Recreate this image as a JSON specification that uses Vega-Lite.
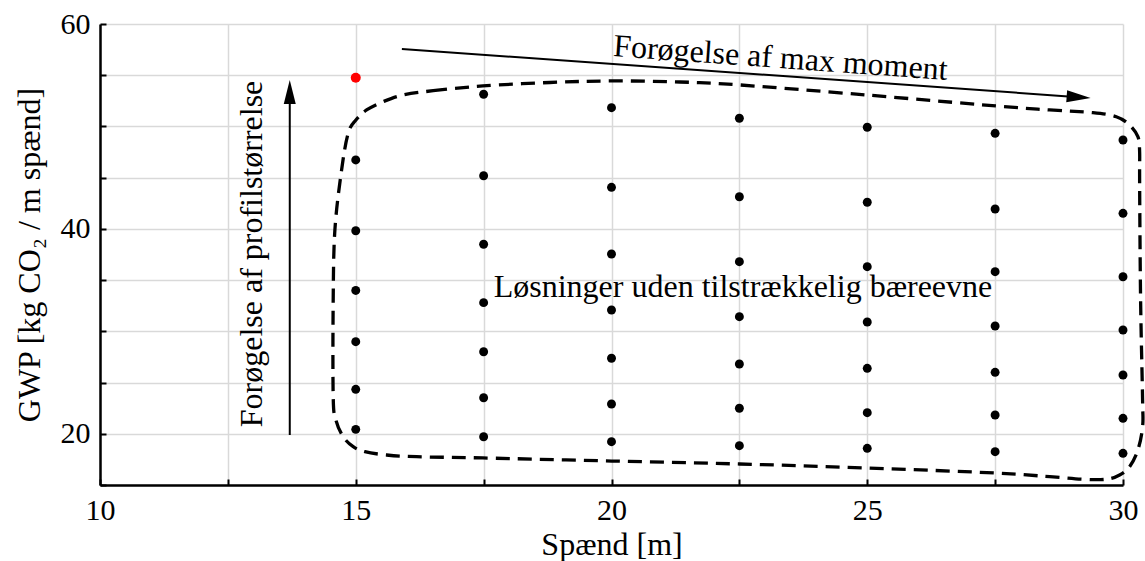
{
  "$schema": "https://vega.github.io/schema/vega-lite/v6.json",
  "width": 1023,
  "height": 461,
  "autosize": {"type": "none"},
  "padding": {"left": 100, "top": 24, "right": 22, "bottom": 76},
  "background": "white",
  "config": {
    "view": {"stroke": null},
    "font": "'Liberation Serif', 'Times New Roman', serif",
    "text": {"font": "'Liberation Serif', 'Times New Roman', serif"},
    "axis": {
      "labelFont": "'Liberation Serif', 'Times New Roman', serif",
      "titleFont": "'Liberation Serif', 'Times New Roman', serif",
      "titleFontWeight": "normal",
      "labelColor": "black",
      "titleColor": "black",
      "gridColor": "#d9d9d9",
      "gridWidth": 1.5,
      "gridOpacity": 1,
      "domainColor": "black",
      "domainWidth": 2.5,
      "tickColor": "black",
      "tickWidth": 2,
      "tickSize": -6,
      "labelFontSize": 30,
      "titleFontSize": 32,
      "labelFlush": false,
      "labelOverlap": false
    }
  },
  "datasets": {
    "dots": [
      {"x": 15, "y": 46.73}, {"x": 15, "y": 39.82}, {"x": 15, "y": 33.99}, {"x": 15, "y": 28.99}, {"x": 15, "y": 24.34}, {"x": 15, "y": 20.43},
      {"x": 17.5, "y": 53.14}, {"x": 17.5, "y": 45.19}, {"x": 17.5, "y": 38.5}, {"x": 17.5, "y": 32.8}, {"x": 17.5, "y": 28.01}, {"x": 17.5, "y": 23.52}, {"x": 17.5, "y": 19.71},
      {"x": 20, "y": 51.83}, {"x": 20, "y": 44.06}, {"x": 20, "y": 37.55}, {"x": 20, "y": 32.08}, {"x": 20, "y": 27.37}, {"x": 20, "y": 22.91}, {"x": 20, "y": 19.23},
      {"x": 22.5, "y": 50.8}, {"x": 22.5, "y": 43.14}, {"x": 22.5, "y": 36.8}, {"x": 22.5, "y": 31.43}, {"x": 22.5, "y": 26.81}, {"x": 22.5, "y": 22.49}, {"x": 22.5, "y": 18.84},
      {"x": 25, "y": 49.92}, {"x": 25, "y": 42.6}, {"x": 25, "y": 36.31}, {"x": 25, "y": 30.91}, {"x": 25, "y": 26.39}, {"x": 25, "y": 22.06}, {"x": 25, "y": 18.58},
      {"x": 27.5, "y": 49.33}, {"x": 27.5, "y": 41.94}, {"x": 27.5, "y": 35.82}, {"x": 27.5, "y": 30.52}, {"x": 27.5, "y": 26.0}, {"x": 27.5, "y": 21.83}, {"x": 27.5, "y": 18.25},
      {"x": 30, "y": 48.68}, {"x": 30, "y": 41.52}, {"x": 30, "y": 35.33}, {"x": 30, "y": 30.13}, {"x": 30, "y": 25.74}, {"x": 30, "y": 21.51}, {"x": 30, "y": 18.09}
    ],
    "red": [{"x": 15, "y": 54.76}],
    "boundary": [
      {"i": 1, "x": 15.927, "y": 53.07},
      {"i": 2, "x": 16.514, "y": 53.49},
      {"i": 3, "x": 17.485, "y": 53.95},
      {"i": 4, "x": 18.794, "y": 54.29},
      {"i": 5, "x": 20.006, "y": 54.44},
      {"i": 6, "x": 21.335, "y": 54.34},
      {"i": 7, "x": 22.508, "y": 54.05},
      {"i": 8, "x": 24.989, "y": 53.07},
      {"i": 9, "x": 27.511, "y": 52.0},
      {"i": 10, "x": 28.566, "y": 51.61},
      {"i": 11, "x": 29.412, "y": 51.34},
      {"i": 12, "x": 29.869, "y": 50.95},
      {"i": 13, "x": 30.129, "y": 50.14},
      {"i": 14, "x": 30.291, "y": 49.0},
      {"i": 15, "x": 30.325, "y": 47.54},
      {"i": 16, "x": 30.325, "y": 44.48},
      {"i": 17, "x": 30.344, "y": 33.06},
      {"i": 18, "x": 30.383, "y": 23.3},
      {"i": 19, "x": 30.383, "y": 20.69},
      {"i": 20, "x": 30.291, "y": 18.42},
      {"i": 21, "x": 30.129, "y": 16.79},
      {"i": 22, "x": 29.934, "y": 15.98},
      {"i": 23, "x": 29.674, "y": 15.56},
      {"i": 24, "x": 29.217, "y": 15.56},
      {"i": 25, "x": 28.566, "y": 15.81},
      {"i": 26, "x": 27.511, "y": 16.17},
      {"i": 27, "x": 24.989, "y": 16.66},
      {"i": 28, "x": 22.508, "y": 17.05},
      {"i": 29, "x": 20.006, "y": 17.34},
      {"i": 30, "x": 17.485, "y": 17.64},
      {"i": 31, "x": 16.189, "y": 17.76},
      {"i": 32, "x": 15.603, "y": 17.93},
      {"i": 33, "x": 15.179, "y": 18.25},
      {"i": 34, "x": 14.95, "y": 18.74},
      {"i": 35, "x": 14.755, "y": 19.71},
      {"i": 36, "x": 14.612, "y": 21.35},
      {"i": 37, "x": 14.559, "y": 23.62},
      {"i": 38, "x": 14.559, "y": 33.06},
      {"i": 39, "x": 14.592, "y": 39.89},
      {"i": 40, "x": 14.723, "y": 45.75},
      {"i": 41, "x": 14.852, "y": 49.33},
      {"i": 42, "x": 15.003, "y": 50.63},
      {"i": 43, "x": 15.212, "y": 51.61},
      {"i": 44, "x": 15.536, "y": 52.42}
    ],
    "arrowMoment": [{"x": 15.902, "y": 57.56, "x2": 29.133, "y2": 52.86}],
    "headMoment": [{"x": 29.133, "y": 52.86}],
    "arrowProfil": [{"x": 13.71, "y": 19.88, "x2": 13.71, "y2": 53.36}],
    "headProfil": [{"x": 13.71, "y": 53.36}],
    "textInside": [{"x": 22.57, "y": 33.35, "label": "Løsninger uden tilstrækkelig bæreevne"}],
    "textMoment": [{"x": 23.29, "y": 55.71, "label": "Forøgelse af max moment"}],
    "textProfil": [{"x": 13.17, "y": 37.55, "label": "Forøgelse af profilstørrelse"}]
  },
  "encoding": {
    "x": {
      "field": "x",
      "type": "quantitative",
      "scale": {"domain": [10, 30], "nice": false, "zero": false},
      "axis": {
        "title": "Spænd [m]",
        "values": [10, 12.5, 15, 17.5, 20, 22.5, 25, 27.5, 30],
        "labelExpr": "datum.value % 5 === 0 ? datum.label : ''",
        "labelPadding": 16,
        "titlePadding": 4
      }
    },
    "y": {
      "field": "y",
      "type": "quantitative",
      "scale": {"domain": [15, 60], "nice": false, "zero": false},
      "axis": {
        "title": "GWP [kg CO₂ / m spænd]",
        "values": [15, 20, 25, 30, 35, 40, 45, 50, 55, 60],
        "labelExpr": "datum.value % 20 === 0 ? datum.label : ''",
        "labelPadding": 16,
        "titlePadding": 14
      }
    }
  },
  "layer": [
    {
      "data": {"name": "boundary"},
      "mark": {"type": "line", "color": "black", "strokeWidth": 3.3, "strokeDash": [14, 8], "interpolate": "cardinal-closed"},
      "encoding": {"order": {"field": "i", "type": "quantitative"}}
    },
    {
      "data": {"name": "dots"},
      "mark": {"type": "point", "filled": true, "color": "black", "opacity": 1, "size": 80}
    },
    {
      "data": {"name": "red"},
      "mark": {"type": "point", "filled": true, "color": "#ff0000", "opacity": 1, "size": 100}
    },
    {
      "data": {"name": "arrowMoment"},
      "mark": {"type": "rule", "color": "black", "strokeWidth": 2},
      "encoding": {"x2": {"field": "x2"}, "y2": {"field": "y2"}}
    },
    {
      "data": {"name": "headMoment"},
      "mark": {"type": "point", "filled": true, "color": "black", "opacity": 1, "size": 576, "shape": "M-1,-0.5L1,0L-1,0.5Z", "angle": 4.1}
    },
    {
      "data": {"name": "arrowProfil"},
      "mark": {"type": "rule", "color": "black", "strokeWidth": 2},
      "encoding": {"x2": {"field": "x2"}, "y2": {"field": "y2"}}
    },
    {
      "data": {"name": "headProfil"},
      "mark": {"type": "point", "filled": true, "color": "black", "opacity": 1, "size": 576, "shape": "M-1,-0.5L1,0L-1,0.5Z", "angle": -90}
    },
    {
      "data": {"name": "textInside"},
      "mark": {"type": "text", "fontSize": 32, "align": "center", "baseline": "alphabetic", "color": "black"},
      "encoding": {"text": {"field": "label"}}
    },
    {
      "data": {"name": "textMoment"},
      "mark": {"type": "text", "fontSize": 32, "align": "center", "baseline": "alphabetic", "color": "black", "angle": 4.1},
      "encoding": {"text": {"field": "label"}}
    },
    {
      "data": {"name": "textProfil"},
      "mark": {"type": "text", "fontSize": 32, "align": "center", "baseline": "alphabetic", "color": "black", "angle": 270},
      "encoding": {"text": {"field": "label"}}
    }
  ]
}
